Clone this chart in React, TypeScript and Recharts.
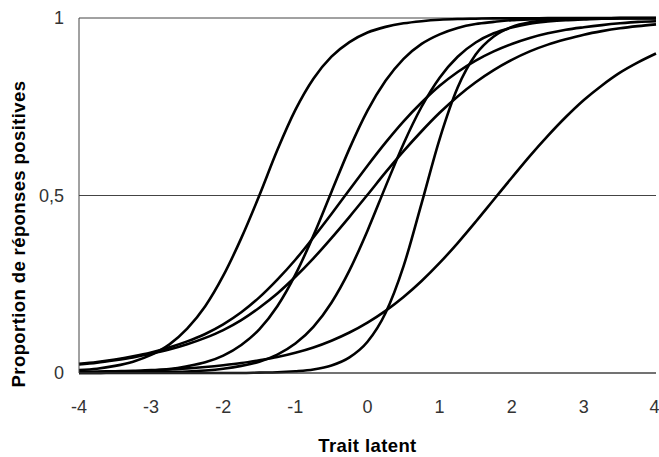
import { LineChart, Line, XAxis, YAxis, CartesianGrid } from "recharts";

// latent trait positions (x axis)
const theta = [
  -4, -3.75, -3.5, -3.25, -3, -2.75, -2.5, -2.25, -2, -1.75, -1.5, -1.25, -1,
  -0.75, -0.5, -0.25, 0, 0.25, 0.5, 0.75, 1, 1.25, 1.5, 1.75, 2, 2.25, 2.5,
  2.75, 3, 3.25, 3.5, 3.75, 4,
];

// proportion of positive answers, one array per item curve
const item1 = [
  0.008, 0.012, 0.02, 0.032, 0.051, 0.08, 0.125, 0.188, 0.274, 0.38, 0.5,
  0.628, 0.741, 0.829, 0.891, 0.932, 0.959, 0.975, 0.985, 0.991, 0.995, 0.997,
  0.998, 0.999, 0.999, 0.999, 1, 1, 1, 1, 1, 1, 1,
];
const item2 = [
  0.001, 0.002, 0.003, 0.004, 0.007, 0.011, 0.019, 0.03, 0.049, 0.079, 0.123,
  0.188, 0.277, 0.387, 0.51, 0.632, 0.739, 0.823, 0.885, 0.927, 0.954, 0.972,
  0.983, 0.989, 0.994, 0.996, 0.998, 0.998, 0.999, 0.999, 1, 1, 1,
];
const item3 = [
  0.026, 0.031, 0.038, 0.047, 0.058, 0.072, 0.089, 0.11, 0.137, 0.171, 0.213,
  0.263, 0.319, 0.382, 0.448, 0.516, 0.584, 0.649, 0.709, 0.762, 0.809, 0.848,
  0.88, 0.906, 0.927, 0.944, 0.957, 0.967, 0.974, 0.98, 0.985, 0.989, 0.991,
];
const item4 = [
  0.024, 0.029, 0.036, 0.044, 0.054, 0.066, 0.081, 0.099, 0.121, 0.149, 0.184,
  0.224, 0.271, 0.323, 0.38, 0.44, 0.502, 0.565, 0.625, 0.681, 0.733, 0.779,
  0.819, 0.853, 0.882, 0.906, 0.925, 0.94, 0.953, 0.963, 0.971, 0.977, 0.982,
];
const item5 = [
  0, 0, 0.001, 0.001, 0.002, 0.003, 0.004, 0.007, 0.012, 0.02, 0.032, 0.052,
  0.083, 0.13, 0.198, 0.289, 0.401, 0.525, 0.646, 0.75, 0.832, 0.891, 0.931,
  0.957, 0.973, 0.984, 0.99, 0.994, 0.996, 0.998, 0.999, 0.999, 0.999,
];
const item6 = [
  0, 0, 0, 0, 0, 0, 0, 0, 0, 0, 0.001, 0.002, 0.005, 0.01, 0.021, 0.044, 0.088,
  0.169, 0.301, 0.478, 0.659, 0.804, 0.897, 0.948, 0.975, 0.988, 0.994, 0.997,
  0.999, 0.999, 1, 1, 1,
];
const item7 = [
  0.003, 0.004, 0.005, 0.006, 0.008, 0.01, 0.013, 0.017, 0.022, 0.028, 0.036,
  0.045, 0.057, 0.072, 0.091, 0.114, 0.142, 0.175, 0.214, 0.259, 0.31, 0.366,
  0.426, 0.488, 0.55, 0.611, 0.668, 0.721, 0.769, 0.81, 0.846, 0.875, 0.9,
];

const xTicks = [-4, -3, -2, -1, 0, 1, 2, 3, 4];
const yTicks = [0, 0.5, 1];

const items = [item1, item2, item3, item4, item5, item6, item7];
const data = theta.map((t, i) => {
  const row: any = { t };
  items.forEach((s, k) => (row["item" + k] = s[i]));
  return row;
});

const tickStyle = { fontFamily: "Liberation Sans, Arial, sans-serif", fontSize: 18, fill: "#333" };
const titleStyle = {
  fontFamily: "Liberation Sans, Arial, sans-serif",
  fontSize: 18.5,
  fontWeight: 700,
  letterSpacing: 0.4,
  fill: "#000",
};

export default function App() {
  return (
    <div style={{ position: "absolute", left: 0, top: 0 }}>
      <LineChart width={659} height={457} data={data} margin={{ top: 18, right: 3, bottom: 0, left: 0 }}>
        <CartesianGrid vertical={false} stroke="#444" strokeWidth={1} />
        <XAxis
          dataKey="t"
          type="number"
          domain={[-4, 4]}
          ticks={xTicks}
          height={84}
          stroke="#444"
          tickLine={false}
          tickSize={0}
          tickMargin={27}
          tick={tickStyle}
          label={{ value: "Trait latent", position: "insideBottom", offset: 5, style: titleStyle }}
        />
        <YAxis
          type="number"
          domain={[0, 1]}
          ticks={yTicks}
          width={79}
          stroke="#444"
          tickLine={false}
          tickSize={0}
          tickMargin={15}
          tick={tickStyle}
          tickFormatter={(v: number) => String(v).replace(".", ",")}
          label={{
            content: () => (
              <text x={18} y={234} transform="rotate(-90 18 234)" textAnchor="middle" dominantBaseline="central" style={titleStyle}>
                Proportion de réponses positives
              </text>
            ),
          }}
        />
        {items.map((_, k) => (
          <Line
            key={k}
            dataKey={"item" + k}
            type="monotone"
            stroke="#000"
            strokeWidth={2.6}
            dot={false}
            isAnimationActive={false}
          />
        ))}
      </LineChart>
    </div>
  );
}
